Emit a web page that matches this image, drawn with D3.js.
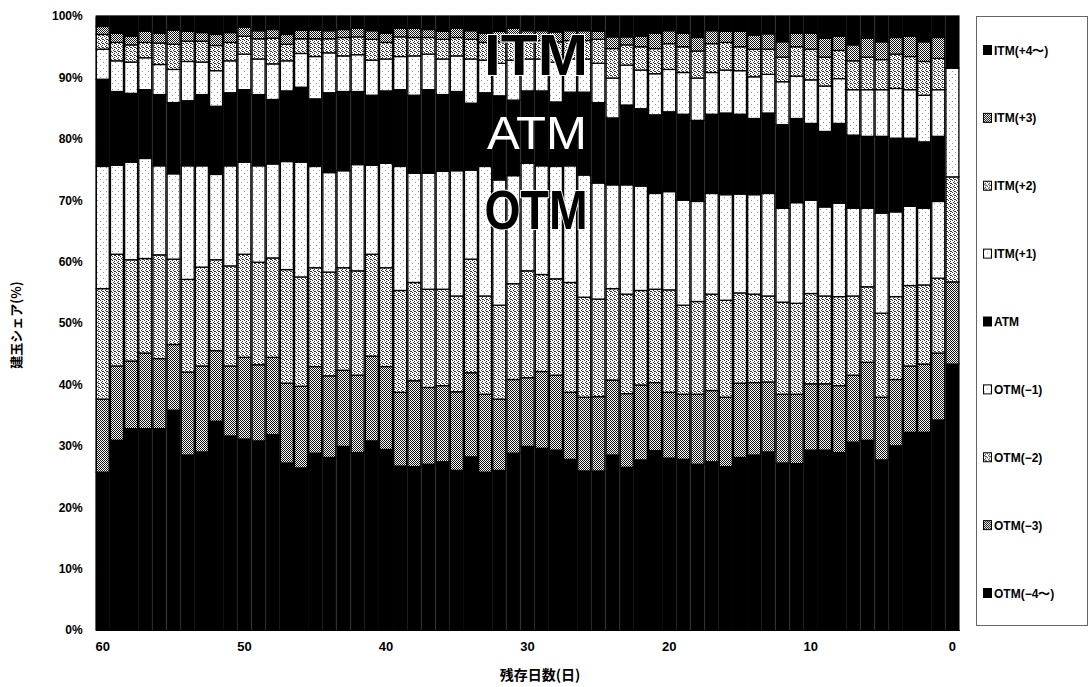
<!DOCTYPE html>
<html>
<head>
<meta charset="utf-8">
<script src="https://cdn.jsdelivr.net/npm/d3@7"></script>
<style>
  body { margin: 0; background: #fff; }
  svg { display: block; }
</style>
</head>
<body>
<svg id="chart" width="1090" height="687"></svg>
<script>
// Remaining days until expiry (x categories)
const days = [60,59,58,57,56,55,54,53,52,51,50,49,48,47,46,45,44,43,42,41,40,39,38,37,36,35,34,33,32,31,30,29,28,27,26,25,24,23,22,21,20,19,18,17,16,15,14,13,12,11,10,9,8,7,6,5,4,3,2,1,0];

// Open-interest share (%) by moneyness, one value per day
const otm4 = [25.7,30.9,32.8,32.8,32.8,35.8,28.5,29.0,34.0,31.6,31.1,30.8,31.8,27.2,26.4,28.8,28.1,29.9,28.9,30.8,29.4,26.7,26.6,27.0,27.4,26.0,28.2,25.7,26.0,28.8,29.9,29.6,29.3,27.8,25.9,25.9,28.5,26.5,27.7,29.2,28.0,27.8,27.0,27.4,26.6,28.1,28.5,29.0,27.2,27.1,29.3,29.3,28.9,30.6,30.9,27.7,30.0,32.2,32.2,34.2,43.3];
const otm3 = [11.9,12.1,11.0,12.3,11.4,10.7,13.5,14.0,11.5,11.4,13.3,12.4,12.6,13.0,13.3,14.1,13.3,12.4,12.6,13.8,13.5,12.0,14.0,12.5,12.4,12.8,13.7,12.7,11.6,12.0,11.2,12.5,12.2,10.9,12.0,12.1,12.2,12.0,12.2,11.1,10.7,10.6,11.4,11.6,11.3,12.1,11.8,11.4,11.2,11.3,10.8,10.8,10.9,10.9,12.7,10.2,10.8,10.8,11.1,10.9,13.4];
const otm2 = [18.0,18.2,16.5,15.4,16.9,13.9,15.1,16.1,14.8,16.3,16.8,16.7,16.2,18.5,17.8,16.1,16.9,16.7,17.0,16.6,16.1,16.6,16.0,16.0,15.7,15.6,18.5,16.0,15.3,15.6,17.4,15.8,15.7,17.9,16.3,15.9,14.9,16.2,15.4,15.2,16.7,14.5,15.1,15.7,15.8,14.7,14.4,14.0,15.0,14.8,14.7,14.3,14.5,12.9,12.3,13.7,13.5,13.1,12.9,12.2,17.1];
const otm1 = [19.9,14.5,15.9,16.3,14.5,13.9,18.5,16.5,13.9,16.3,15.0,15.7,15.3,17.6,18.7,16.5,16.2,15.8,17.3,14.5,17.0,20.2,17.8,18.9,19.2,20.4,14.5,21.1,20.4,17.6,17.5,17.7,18.3,19.0,19.9,18.9,16.9,17.8,17.0,15.6,16.0,17.1,16.3,16.4,17.2,16.1,16.2,16.7,15.3,16.4,15.2,14.5,15.2,14.3,12.8,16.3,13.8,12.9,12.5,12.5,17.7];
const atm  = [14.2,12.0,11.2,11.2,11.6,11.6,10.6,11.6,11.1,11.9,11.8,11.6,10.5,11.5,12.2,11.0,13.0,12.9,11.9,11.4,11.8,12.5,12.7,13.6,12.5,12.9,10.9,12.0,13.7,12.3,11.8,12.2,10.5,12.0,13.5,13.1,10.9,13.0,12.6,12.8,13.0,14.0,13.2,12.9,13.3,13.0,12.4,13.1,13.6,13.7,12.5,12.3,13.0,11.9,11.7,12.5,12.0,11.1,10.8,10.6,8.5];
const itm1 = [4.9,5.0,5.1,5.2,4.9,5.4,6.4,5.3,5.8,5.2,5.8,5.8,5.8,4.9,5.5,6.9,6.5,5.8,6.0,5.7,5.2,5.4,6.4,5.8,5.8,5.8,7.2,5.3,5.3,6.5,5.2,5.2,6.5,5.4,5.4,6.4,6.5,6.5,6.3,6.7,6.9,6.8,6.9,6.8,7.0,7.1,6.8,6.3,7.0,6.9,7.1,7.4,7.3,7.4,7.6,7.6,8.1,7.9,7.6,7.6,0];
const itm2 = [2.4,3.0,2.8,2.5,3.5,4.1,3.3,3.4,4.1,3.0,2.9,3.3,4.2,2.7,2.4,2.9,2.3,3.0,2.9,3.4,2.7,3.2,3.0,2.7,3.2,3.0,3.2,2.9,3.5,3.6,3.0,3.0,3.3,3.0,3.0,3.9,4.8,3.3,3.8,4.1,4.2,4.2,4.4,4.7,4.5,3.9,4.5,4.1,4.0,4.8,5.0,4.7,4.6,4.7,5.3,4.9,5.6,5.4,5.5,5.1,0];
const itm3 = [1.3,1.5,1.4,1.8,1.6,2.3,1.6,1.4,1.8,1.6,1.5,1.3,1.4,1.6,1.4,1.4,1.3,1.3,1.4,1.4,1.5,1.4,1.5,1.3,1.3,1.5,1.4,1.5,1.7,1.6,1.6,1.6,1.6,1.6,1.6,1.3,1.9,1.3,1.7,2.5,2.1,2.2,2.2,2.1,1.8,2.5,2.3,2.5,2.5,2.2,2.6,3.1,2.3,2.6,3.1,2.9,2.7,3.3,3.2,3.4,0];
const itm4 = [1.7,2.8,3.3,2.5,2.8,2.3,2.5,2.7,3.0,2.7,1.8,2.4,2.2,3.0,2.3,2.3,2.4,2.2,2.0,2.4,2.8,2.0,2.0,2.2,2.5,2.0,2.4,2.8,2.5,2.0,2.4,2.4,2.6,2.4,2.4,2.5,3.4,3.4,3.3,2.8,2.4,2.8,3.5,2.4,2.5,2.5,3.1,2.9,4.2,2.8,2.8,3.6,3.3,4.7,3.6,4.2,3.5,3.3,4.2,3.5,0];

// Series keys, bottom of the stack first, with legend names
const seriesKeys  = ["otm4","otm3","otm2","otm1","atm","itm1","itm2","itm3","itm4"];
const seriesNames = ["OTM(−4〜)","OTM(−3)","OTM(−2)","OTM(−1)","ATM","ITM(+1)","ITM(+2)","ITM(+3)","ITM(+4〜)"];
const seriesData  = [otm4, otm3, otm2, otm1, atm, itm1, itm2, itm3, itm4];

const yTicks = [0,10,20,30,40,50,60,70,80,90,100];
const xTickDays = [60,50,40,30,20,10,0];

const rows = days.map((d, i) => {
  const r = { day: d };
  seriesKeys.forEach((k, j) => { r[k] = seriesData[j][i]; });
  return r;
});

const svg = d3.select("#chart");
const defs = svg.append("defs");

// Halftone-like fills
function pixelPattern(id, size, pixels, dotColor) {
  const p = defs.append("pattern")
    .attr("id", id).attr("patternUnits", "userSpaceOnUse")
    .attr("width", size).attr("height", size);
  p.append("rect").attr("width", size).attr("height", size).attr("fill", "#fff");
  pixels.forEach(([px, py]) => {
    p.append("rect").attr("x", px).attr("y", py).attr("width", 1).attr("height", 1).attr("fill", dotColor);
  });
}
pixelPattern("pDark", 2, [[0,0],[1,1]], "#111");
pixelPattern("pLight", 4, [[0,0],[2,1],[1,2],[3,3],[2,3]], "#333");
pixelPattern("pSparse", 6, [[1,2],[4,5]], "#999");

const fills = {
  otm4: "#000", otm3: "url(#pDark)", otm2: "url(#pLight)", otm1: "url(#pSparse)",
  atm: "#000", itm1: "url(#pSparse)", itm2: "url(#pLight)", itm3: "url(#pDark)", itm4: "#000"
};

const plotLeft = 95.7, plotRight = 959.5, plotTop = 16, plotBottom = 630;

const x = d3.scaleBand().domain(days).range([plotLeft, plotRight]).paddingInner(0).paddingOuter(0);
const y = d3.scaleLinear().domain([0, 100]).range([plotBottom, plotTop]);

const stack = d3.stack().keys(seriesKeys);
const layers = stack(rows);

const g = svg.append("g");
g.selectAll("g.layer")
  .data(layers)
  .join("g")
  .attr("class", "layer")
  .attr("fill", d => fills[d.key])
  .selectAll("rect")
  .data(d => d)
  .join("rect")
  .attr("x", d => x(d.data.day) + 0.6)
  .attr("width", x.bandwidth() - 1.2)
  .attr("y", d => y(d[1]))
  .attr("height", d => Math.max(0, y(d[0]) - y(d[1])))
  .attr("stroke", "#000")
  .attr("stroke-width", 1.3);

// Axes
const yAxis = d3.axisLeft(y).tickValues(yTicks).tickSize(0).tickPadding(13).tickFormat(d => d + "%");
const ya = svg.append("g").attr("transform", `translate(${plotLeft},0)`).call(yAxis);
ya.select(".domain").attr("stroke", "#000").attr("stroke-width", 1.2);
ya.selectAll("text").attr("font-family", "'Liberation Sans', Arial, sans-serif")
  .attr("font-weight", "bold").attr("font-size", 12).attr("fill", "#000");

const xAxis = d3.axisBottom(x).tickValues(xTickDays).tickSize(0).tickPadding(12);
const xa = svg.append("g").attr("transform", `translate(0,${plotBottom})`).call(xAxis);
xa.select(".domain").attr("stroke", "#000").attr("stroke-width", 1.2);
xa.selectAll("text").attr("font-family", "'Liberation Sans', Arial, sans-serif")
  .attr("font-weight", "bold").attr("font-size", 13).attr("fill", "#000");

// Axis titles
svg.append("text")
  .attr("transform", "translate(21,325) rotate(-90)")
  .attr("text-anchor", "middle")
  .attr("font-family", "'Noto Sans CJK JP', sans-serif")
  .attr("font-weight", "bold").attr("font-size", 13)
  .text("建玉シェア(%)");

svg.append("text")
  .attr("x", 540).attr("y", 680)
  .attr("text-anchor", "middle")
  .attr("font-family", "'Noto Sans CJK JP', sans-serif")
  .attr("font-weight", "bold").attr("font-size", 14)
  .text("残存日数(日)");

// Region labels over the bars
const annot = svg.append("g").attr("font-family", "'Liberation Sans', Arial, sans-serif").attr("text-anchor", "middle");
annot.append("text").attr("x", 536).attr("y", 75)
  .attr("font-weight", "bold").attr("font-size", 58)
  .attr("fill", "#000").attr("stroke", "#fff").attr("stroke-width", 2).attr("paint-order", "stroke")
  .attr("textLength", 104).attr("lengthAdjust", "spacingAndGlyphs")
  .text("ITM");
annot.append("text").attr("x", 537).attr("y", 149)
  .attr("font-size", 47).attr("fill", "#fff")
  .attr("textLength", 100).attr("lengthAdjust", "spacingAndGlyphs")
  .text("ATM");
annot.append("text").attr("x", 536).attr("y", 229)
  .attr("font-weight", "bold").attr("font-size", 56)
  .attr("fill", "#000").attr("stroke", "#fff").attr("stroke-width", 2).attr("paint-order", "stroke")
  .attr("textLength", 103).attr("lengthAdjust", "spacingAndGlyphs")
  .text("OTM");

// Legend, top entry = top of the stack
const legend = svg.append("g");
legend.append("rect")
  .attr("x", 976.5).attr("y", 16.5).attr("width", 111).attr("height", 609)
  .attr("fill", "#fff").attr("stroke", "#666").attr("stroke-width", 1);

const legendY = d3.scalePoint().domain(seriesKeys.slice().reverse()).range([50, 593]);
const items = legend.selectAll("g.item")
  .data(seriesKeys.slice().reverse())
  .join("g").attr("class", "item")
  .attr("transform", k => `translate(983,${legendY(k)})`);
items.append("rect")
  .attr("x", 0.5).attr("y", -4.5).attr("width", 8).attr("height", 9)
  .attr("fill", k => fills[k]).attr("stroke", "#000").attr("stroke-width", 1);
items.append("text")
  .attr("x", 11).attr("y", 4.5)
  .attr("font-family", "'Liberation Sans', Arial, sans-serif")
  .attr("font-weight", "bold").attr("font-size", 12)
  .text(k => seriesNames[seriesKeys.indexOf(k)]);
</script>
</body>
</html>
